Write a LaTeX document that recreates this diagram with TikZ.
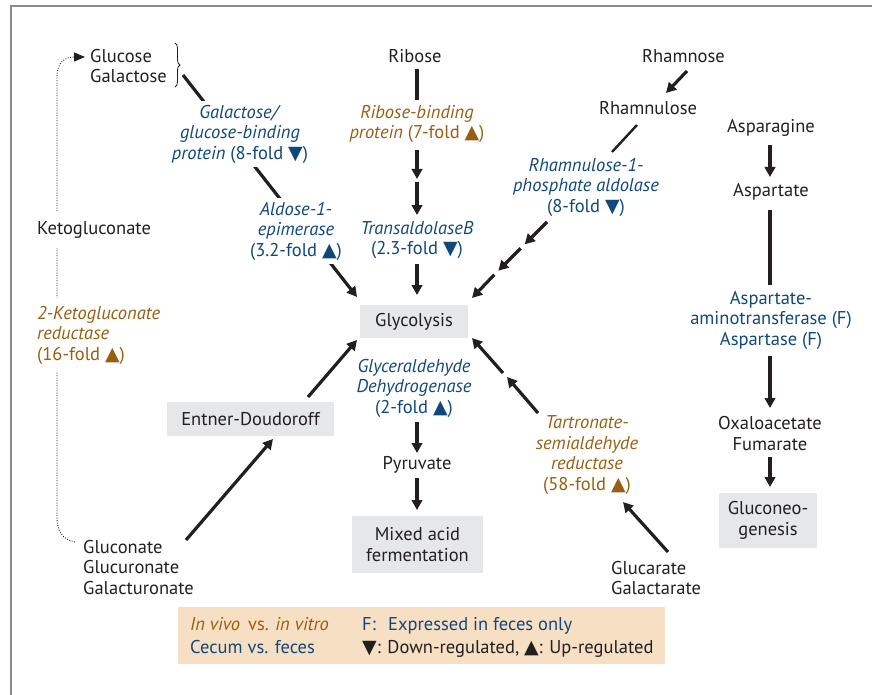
\documentclass[tikz,border=0pt]{standalone}
\usepackage{fontspec}
\setmainfont{PT Sans}
\newfontfamily\symf{DejaVu Sans}
\usetikzlibrary{arrows.meta,calc,backgrounds,decorations.pathreplacing}
\definecolor{ink}{HTML}{231F20}
\definecolor{myblue}{HTML}{10487A}
\definecolor{mybrown}{HTML}{975F12}
\definecolor{boxgray}{HTML}{E6E7E8}
\definecolor{peach}{HTML}{F7DFC4}
\definecolor{framec}{HTML}{8A8A8A}
\newcommand\tup{{\symf\fontsize{19pt}{19pt}\selectfont ▲}}
\newcommand\tdn{{\symf\fontsize{19pt}{19pt}\selectfont ▼}}
\begin{document}
\begin{tikzpicture}[x=1pt,y=-1pt,
  every node/.style={inner sep=0pt, align=center, text=ink, font=\fontsize{18.5pt}{20.5pt}\selectfont},
  gbox/.style={fill=boxgray},
  arr/.style={draw=ink, line width=3.2pt, -{Triangle[length=10pt,width=10.5pt]}},
  ln/.style={draw=ink, line width=3.2pt},
  lnthin/.style={draw=ink, line width=2.4pt},
  dotl/.style={draw=ink, line width=0.9pt, dash pattern=on 0.9pt off 1.6pt, -{Triangle[length=11pt,width=9pt]}},
  lab/.style={fill=white, inner xsep=2pt, inner ysep=4pt}]
\useasboundingbox (0,0) rectangle (872,695);
\draw[framec, line width=2pt] (872,6) -- (11,6) -- (11,695);

% nodes
\node (glu) [anchor=west, align=left] at (90,66) {Glucose\\Galactose};
\draw[ink, line width=0.8pt, decorate, decoration={brace,amplitude=5pt}] (175,43) -- (175,87);
\coordinate (bt) at (183,75);
\node (ribose) at (415,56) {Ribose};
\node (rbp) [text=mybrown] at (417,124) {\textit{Ribose-binding}\\\textit{protein} (7-fold \tup)};
\coordinate (rmid) at (417,180);
\node (tal) [text=myblue] at (417,240) {\textit{TransaldolaseB}\\(2.3-fold \tdn)};
\node (gly) [gbox, minimum width=108pt, minimum height=33pt] at (414,321.5) {Glycolysis};
\node (gapdh) [text=myblue] at (414,388) {\textit{Glyceraldehyde}\\\textit{Dehydrogenase}\\(2-fold \tup)};
\node (pyr) at (417,465) {Pyruvate};
\node (mixed) [gbox, minimum width=131pt, minimum height=57pt] at (417.5,544.5) {Mixed acid\\fermentation};
\node (ggbp) [text=myblue, lab] at (240,134) {\textit{Galactose/}\\\textit{glucose-binding}\\\textit{protein} (8-fold \tdn)};
\node (aldose) [text=myblue, lab] at (296,231) {\textit{Aldose-1-}\\\textit{epimerase}\\(3.2-fold \tup)};
\node (keto) [anchor=west, fill=white, minimum height=36pt] at (37,230) {Ketogluconate};
\node (kgr) [anchor=west, align=left, text=mybrown, fill=white, minimum height=74pt] at (37,335) {\textit{2-Ketogluconate}\\\textit{reductase}\\(16-fold \tup)};
\node (ed) [gbox, minimum width=167pt, minimum height=34pt] at (250.5,419) {Entner-Doudoroff};
\node (gluc) [anchor=west, align=left] at (83,567.5) {Gluconate\\Glucuronate\\Galacturonate};
\node (rham) at (683.5,56) {Rhamnose};
\node (rhu) at (648,108) {Rhamnulose};
\node (r1p) [text=myblue] at (586,187) {\textit{Rhamnulose-1-}\\\textit{phosphate aldolase}\\(8-fold \tdn)};
\coordinate (rm1) at (522.7,246.3);
\coordinate (rm2) at (496.3,272.7);
\node (asn) at (771,128) {Asparagine};
\node (asp) at (771,192) {Aspartate};
\node (aat) [text=myblue] at (771,320) {Aspartate-\\aminotransferase (F)\\Aspartase (F)};
\node (oxf) at (770,433.5) {Oxaloacetate\\Fumarate};
\node (gng) [gbox, minimum width=98pt, minimum height=55pt] at (768,520.5) {Gluconeo-\\genesis};
\node (tsr) [text=mybrown] at (587,455) {\textit{Tartronate-}\\\textit{semialdehyde}\\\textit{reductase}\\(58-fold \tup)};
\coordinate (tm) at (505,375);
\node (glucar) [anchor=west, align=left] at (611,578) {Glucarate\\Galactarate};

% legend
\node (legend) [fill=peach, minimum width=487pt, minimum height=57pt] at (421.5,635.5) {};
\node (lg1) [anchor=base west, text=mybrown] at (190,630) {\textit{In vivo}\, vs. \textit{in vitro}};
\node (lg2) [anchor=base west, text=myblue] at (190,653) {Cecum vs. feces};
\node (lg3) [anchor=base west, text=myblue] at (362,630) {F:};
\node (lg4) [anchor=base west, text=myblue] at (388,630) {Expressed in feces only};
\node (lg5) [anchor=base west] at (362,653) {\tdn: Down-regulated, \tup: Up-regulated};

% background connectors
\begin{scope}[on background layer]
\draw[arr] (bt) -- ($(gly)+(-57,-24.5)$);
\coordinate (ds) at ($(gluc.west)+(-8,-25.5)$);
\coordinate (de) at ($(glu.west)+(-5,-9)$);
\draw[dotl] (ds) .. controls ($(ds)+(-14,-3)$) and ($(ds)+(-18,-12)$) .. ($(ds)+(-18,-25)$)
  -- ($(de)+(-28,20)$) .. controls ($(de)+(-28,5)$) and ($(de)+(-20,0)$) .. (de);
\end{scope}

% connectors
\draw[ln] ($(ribose)+(2,13)$) -- ($(rbp)+(0,-24)$);
\draw[arr] ($(rbp)+(0,26)$) -- ($(rmid)+(0,-1)$);
\draw[arr] ($(rmid)+(0,2)$) -- ($(tal)+(0,-25)$);
\draw[arr] ($(tal)+(0,24)$) -- ($(gly)+(3,-26.5)$);
\draw[arr] ($(gapdh)+(3,34)$) -- ($(pyr)+(0,-12)$);
\draw[arr] ($(pyr)+(0,13)$) -- ($(mixed)+(-0.5,-34.5)$);
\draw[arr] ($(ed)+(57.5,-22)$) -- ($(gly)+(-57,18.5)$);
\draw[arr] ($(gluc.west)+(103,-27.5)$) -- ($(ed)+(22.5,20)$);
\draw[arr] ($(rham)+(3.5,15)$) -- ($(rhu)+(18,-15)$);
\draw[lnthin] ($(rhu)+(-11,17)$) -- ($(r1p)+(26,-35)$);
\draw[arr] ($(r1p)+(-39,35)$) -- ($(rm1)+(2,-2)$);
\draw[arr] ($(rm1)+(-2,2)$) -- ($(rm2)+(2,-2)$);
\draw[arr] ($(rm2)+(-2,2)$) -- ($(gly)+(58,-23.5)$);
\draw[arr] ($(glucar.west)+(57,-26)$) -- ($(tsr)+(36,47)$);
\draw[arr] ($(tsr)+(-49,-42)$) -- ($(tm)+(2,2)$);
\draw[arr] ($(tm)+(-2,-2)$) -- ($(gly)+(58,16.5)$);
\draw[arr] ($(asn)+(-1,17)$) -- ($(asp)+(-1,-15)$);
\draw[ln] ($(asp)+(-1,18)$) -- ($(aat)+(-1,-35)$);
\draw[arr] ($(aat)+(-1,36)$) -- ($(oxf)+(0,-25.5)$);
\draw[arr] ($(oxf)+(0,23.5)$) -- ($(gng)+(2,-33.5)$);
\end{tikzpicture}
\end{document}
